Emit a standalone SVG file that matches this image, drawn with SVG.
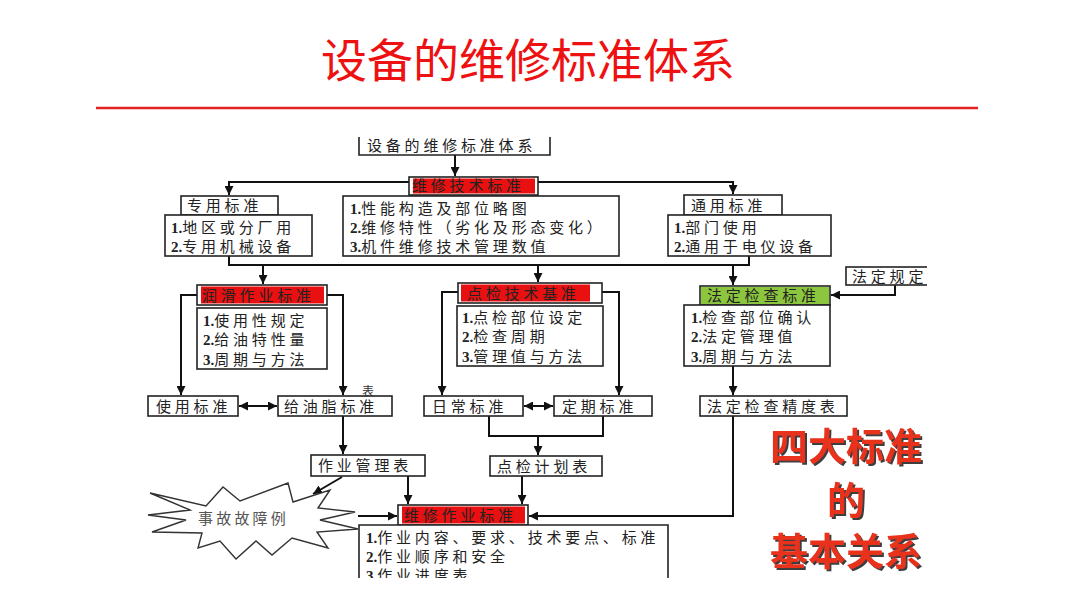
<svg xmlns="http://www.w3.org/2000/svg" width="1080" height="608" viewBox="0 0 1080 608">
<defs>
<style>
.bx{fill:#fff;stroke:#222;stroke-width:1.6}
.red{fill:#e81010;stroke:none}
.grn{fill:#8cc63e;stroke:none}
.t{font-family:"Liberation Serif","Noto Sans CJK SC",serif;font-size:15px;letter-spacing:3.8px;fill:#222}
.n{font-weight:bold;letter-spacing:0}
.ln{stroke:#111;stroke-width:2;fill:none}
.big{font-family:"Noto Sans CJK SC",sans-serif;font-size:38px;font-weight:bold;fill:#e8321e;text-anchor:middle;filter:url(#shadow)}
</style>
<filter id="shadow" x="-20%" y="-20%" width="140%" height="140%">
<feDropShadow dx="2" dy="2" stdDeviation="0.6" flood-color="#2a2a2a" flood-opacity="0.9"/>
</filter>
<marker id="ah" viewBox="0 0 10 10" refX="10" refY="5" markerWidth="9" markerHeight="9" markerUnits="userSpaceOnUse" orient="auto-start-reverse">
<path d="M0,0 L10,5 L0,10 z" fill="#111"/>
</marker>
<clipPath id="clipR"><rect x="0" y="0" width="927" height="608"/></clipPath>
<clipPath id="clipB"><rect x="0" y="0" width="1080" height="578"/></clipPath>
</defs>
<rect width="1080" height="608" fill="#fff"/>

<g id="title">
<text x="528" y="77" text-anchor="middle" font-family="Noto Sans CJK SC, sans-serif" font-size="46" fill="#ee1111">设备的维修标准体系</text>
<line x1="96" y1="108" x2="978" y2="108" stroke="#e32222" stroke-width="2.5"/>
</g>

<g id="connectors">
<path class="ln" d="M455,155 V176" marker-end="url(#ah)"/>
<path class="ln" d="M409,182 H229 V195" marker-end="url(#ah)"/>
<path class="ln" d="M538,182 H733 V194" marker-end="url(#ah)"/>
<path class="ln" d="M229,256 V265 H749 V256"/>
<path class="ln" d="M263,265 V284" marker-end="url(#ah)"/>
<path class="ln" d="M538,265 V282" marker-end="url(#ah)"/>
<path class="ln" d="M733,265 V285" marker-end="url(#ah)"/>
<path class="ln" d="M197,295 H181 V395" marker-end="url(#ah)"/>
<path class="ln" d="M327,295 H343 V395" marker-end="url(#ah)"/>
<path class="ln" d="M239,406 H277" marker-start="url(#ah)" marker-end="url(#ah)"/>
<path class="ln" d="M458,292 H442 V395" marker-end="url(#ah)"/>
<path class="ln" d="M602,292 H619 V395" marker-end="url(#ah)"/>
<path class="ln" d="M524,406 H553" marker-start="url(#ah)" marker-end="url(#ah)"/>
<path class="ln" d="M489,416 V436 H603 V416"/>
<path class="ln" d="M538,436 V455" marker-end="url(#ah)"/>
<path class="ln" d="M343,416 V454" marker-end="url(#ah)"/>
<path class="ln" d="M895,285 V295 H831" marker-end="url(#ah)"/>
<path class="ln" d="M733,366 V395" marker-end="url(#ah)"/>
<path class="ln" d="M733,416 V516 H529" marker-end="url(#ah)"/>
<path class="ln" d="M342,477 L313,494" marker-end="url(#ah)"/>
<path class="ln" d="M408,476 V504" marker-end="url(#ah)"/>
<path class="ln" d="M522,476 V504" marker-end="url(#ah)"/>
<path class="ln" d="M358,516 H397" marker-end="url(#ah)"/>
</g>

<g id="n-root">
<path d="M359,137 V155 H550 V137" fill="none" stroke="#222" stroke-width="1.6"/>
<text class="t" x="367" y="151">设备的维修标准体系</text>
</g>

<g id="n-tech">
<rect class="bx" x="409" y="177" width="129" height="18"/>
<rect class="red" x="413" y="178.5" width="122" height="15"/>
<text class="t" x="412" y="191">维修技术标准</text>
</g>

<g id="n-tech-items">
<rect class="bx" x="343" y="196" width="276" height="60"/>
<text class="t" x="350" y="213.5"><tspan class="n">1.</tspan>性能构造及部位略图</text>
<text class="t" x="350" y="232.5"><tspan class="n">2.</tspan>维修特性（劣化及形态变化）</text>
<text class="t" x="350" y="251.5"><tspan class="n">3.</tspan>机件维修技术管理数值</text>
</g>

<g id="n-special">
<rect class="bx" x="181" y="196" width="97" height="19"/>
<text class="t" x="187" y="211">专用标准</text>
<rect class="bx" x="165" y="215" width="147" height="41"/>
<text class="t" x="171" y="232.5"><tspan class="n">1.</tspan>地区或分厂用</text>
<text class="t" x="171" y="251.5"><tspan class="n">2.</tspan>专用机械设备</text>
</g>

<g id="n-general">
<rect class="bx" x="684" y="195" width="98" height="20"/>
<text class="t" x="691" y="211">通用标准</text>
<rect class="bx" x="668" y="215" width="163" height="41"/>
<text class="t" x="674" y="232.5"><tspan class="n">1.</tspan>部门使用</text>
<text class="t" x="674" y="251.5"><tspan class="n">2.</tspan>通用于电仪设备</text>
</g>

<g id="n-lube">
<rect class="bx" x="197" y="285" width="130" height="20"/>
<rect class="red" x="201" y="286.5" width="123" height="17"/>
<text class="t" x="202" y="300.5">润滑作业标准</text>
<rect class="bx" x="197" y="308" width="130" height="61"/>
<text class="t" x="203" y="325.5"><tspan class="n">1.</tspan>使用性规定</text>
<text class="t" x="203" y="344.5"><tspan class="n">2.</tspan>给油特性量</text>
<text class="t" x="203" y="364.5"><tspan class="n">3.</tspan>周期与方法</text>
</g>

<g id="n-use">
<rect class="bx" x="148" y="396" width="90" height="20"/>
<text class="t" x="156" y="411.5">使用标准</text>
</g>

<g id="n-grease">
<rect class="bx" x="278" y="396" width="114" height="20"/>
<text class="t" x="284" y="411.5">给油脂标准</text>
<text x="362" y="396" font-family="Noto Sans CJK SC, sans-serif" font-size="12" fill="#333">表</text>
</g>

<g id="n-inspect">
<rect class="bx" x="458" y="283" width="144" height="20"/>
<rect class="red" x="461" y="284.5" width="129" height="17"/>
<text class="t" x="467" y="298.5">点检技术基准</text>
<rect class="bx" x="457" y="306" width="146" height="60"/>
<text class="t" x="462" y="322.5"><tspan class="n">1.</tspan>点检部位设定</text>
<text class="t" x="462" y="342"><tspan class="n">2.</tspan>检查周期</text>
<text class="t" x="462" y="361.5"><tspan class="n">3.</tspan>管理值与方法</text>
</g>

<g id="n-daily">
<rect class="bx" x="424" y="396" width="99" height="20"/>
<text class="t" x="432" y="411.5">日常标准</text>
</g>

<g id="n-periodic">
<rect class="bx" x="554" y="396" width="98" height="20"/>
<text class="t" x="562" y="411.5">定期标准</text>
</g>

<g id="n-plan">
<rect class="bx" x="490" y="456" width="112" height="20"/>
<text class="t" x="497" y="471.5">点检计划表</text>
</g>

<g id="n-legal">
<rect class="bx" x="700" y="286" width="130" height="19"/>
<rect class="grn" x="701" y="287" width="128" height="17"/>
<text class="t" x="707" y="301">法定检查标准</text>
<rect class="bx" x="684" y="305" width="146" height="61"/>
<text class="t" x="691" y="322.5"><tspan class="n">1.</tspan>检查部位确认</text>
<text class="t" x="691" y="342"><tspan class="n">2.</tspan>法定管理值</text>
<text class="t" x="691" y="361.5"><tspan class="n">3.</tspan>周期与方法</text>
</g>

<g id="n-law" clip-path="url(#clipR)">
<rect class="bx" x="846" y="267" width="100" height="18"/>
<text class="t" x="852" y="281.5">法定规定</text>
</g>

<g id="n-precision">
<rect class="bx" x="700" y="396" width="147" height="20"/>
<text class="t" x="707" y="411.5">法定检查精度表</text>
</g>

<g id="n-worktable">
<rect class="bx" x="311" y="455" width="114" height="21"/>
<text class="t" x="318" y="471">作业管理表</text>
</g>

<g id="n-accident">
<path d="M150,493 L206,506 L223,487 L240,501 L288,483 L293,502 L330,490 L318,508 L355,512 L320,520 L358,529 L317,532 L328,548 L292,538 L272,555 L256,541 L236,559 L220,541 L198,548 L202,533 L152,532 L186,520 L148,515 L190,510 Z" fill="#fff" stroke="#333" stroke-width="1.4"/>
<text class="t" x="198" y="523.5" style="letter-spacing:3.2px;fill:#555">事故故障例</text>
</g>

<g id="n-work">
<rect class="bx" x="398" y="505" width="130" height="20"/>
<rect class="red" x="402" y="506.5" width="123" height="17"/>
<text class="t" x="404" y="520.5">维修作业标准</text>
<g clip-path="url(#clipB)">
<path d="M359,590 V525 H668 V590" fill="#fff" stroke="#222" stroke-width="1.6"/>
<text class="t" x="366" y="542.5"><tspan class="n">1.</tspan>作业内容、要求、技术要点、标准</text>
<text class="t" x="366" y="561.5"><tspan class="n">2.</tspan>作业顺序和安全</text>
<text class="t" x="366" y="581"><tspan class="n">3.</tspan>作业进度表</text>
</g>
</g>

<g id="caption">
<text class="big" x="846" y="460">四大标准</text>
<text class="big" x="846" y="514">的</text>
<text class="big" x="846" y="565">基本关系</text>
</g>
</svg>
